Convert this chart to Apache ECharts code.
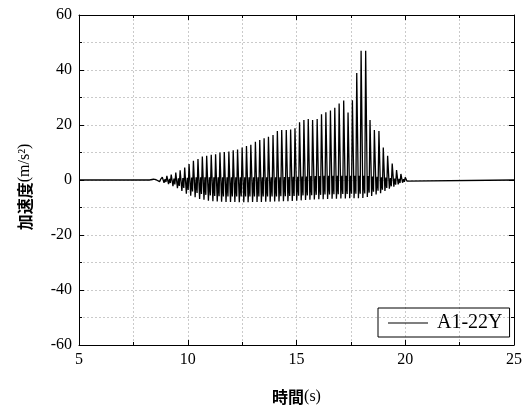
<!DOCTYPE html>
<html><head><meta charset="utf-8">
<script src="https://cdn.jsdelivr.net/npm/echarts@6/dist/echarts.min.js"></script>
<style>html,body{margin:0;padding:0;background:#fff;}#c{width:527px;height:410px;}</style>
</head><body><div id="c"></div>
<script>
const seriesName = 'A1-22Y';
const xTicks = [5, 10, 15, 20, 25];
const yTicks = [-60, -40, -20, 0, 20, 40, 60];
const quietStart = [5, 8.25];
const quietEnd = [20.15, 25];
const cycleTimes = [8.42,8.63,8.83,9.04,9.24,9.45,9.65,9.86,
10.06,10.26,10.47,10.67,10.87,11.08,11.28,11.48,11.68,11.89,
12.09,12.29,12.50,12.70,12.90,13.11,13.31,13.51,13.71,13.92,
14.12,14.32,14.53,14.73,14.93,15.14,15.34,15.54,15.74,15.95,
16.15,16.35,16.56,16.76,16.96,17.17,17.37,17.57,17.77,17.97,
18.18,18.38,18.58,18.79,18.99,19.19,19.40,19.60,19.80,20.00];
const peakVals = [0.3,0.6,1.0,1.5,2.0,2.7,3.5,4.5,
5.8,7.0,7.6,8.5,8.8,9.2,9.4,10.0,10.2,10.4,
10.8,11.1,11.8,12.4,12.8,13.9,14.5,15.2,15.7,16.4,
17.8,18.2,18.2,18.4,18.8,21.0,21.8,22.2,21.8,22.2,
23.9,24.6,25.3,26.3,27.8,28.9,24.5,29.0,38.9,47.0,
47.0,21.8,18.2,17.8,11.8,8.8,6.0,3.6,2.2,1.0];
const troughVals = [-0.3,-0.6,-1.0,-1.5,-2.2,-3.0,-4.0,-5.0,
-5.7,-6.3,-6.9,-7.2,-7.5,-7.7,-7.8,-7.9,-8.0,-8.0,
-8.0,-8.1,-8.1,-8.1,-8.0,-8.0,-8.0,-7.9,-7.9,-7.8,
-7.8,-7.7,-7.7,-7.6,-7.5,-7.4,-7.3,-7.2,-7.1,-7.0,
-7.0,-6.9,-6.8,-6.8,-6.7,-6.7,-6.6,-6.6,-6.6,-6.5,
-6.2,-5.8,-5.3,-4.8,-4.0,-3.2,-2.4,-1.6,-1.0,-0.4];
const subHighVals = [0.1,0.2,0.3,0.4,0.5,0.6,0.7,0.8,
0.9,1,1,1,1,1,1,1,1,1,
1,1,1,1,1,1,1,1,1,1,
1,1.1,1.1,1.2,1.2,1.3,1.3,1.4,1.4,1.4,
1.5,1.5,1.5,1.5,1.5,1.5,1.5,1.5,1.5,1.5,
1.4,1.3,1.2,1.0,0.9,0.7,0.5,0.4,0.3,0.2];
const subLowVals = [-0.2,-0.4,-0.7,-1.1,-1.6,-2.2,-2.9,-3.6,
-4.2,-4.7,-5.1,-5.4,-5.6,-5.8,-5.9,-6,-6,-6,
-6,-6,-6,-6,-6,-6,-6,-6,-6,-6,
-5.9,-5.9,-5.8,-5.8,-5.7,-5.6,-5.6,-5.5,-5.4,-5.4,
-5.3,-5.3,-5.2,-5.2,-5.1,-5.1,-5,-5,-5,-4.9,
-4.6,-4.3,-3.9,-3.5,-2.9,-2.3,-1.7,-1.1,-0.7,-0.3];

// build line data from the read values
const data = [[quietStart[0], 0], [quietStart[1], 0]];
for (let i = 0; i < cycleTimes.length; i++) {
  const t = cycleTimes[i];
  const p = (i + 1 < cycleTimes.length ? cycleTimes[i + 1] : t + 0.2) - t;
  data.push([t, peakVals[i]]);
  data.push([t + 0.38 * p, troughVals[i]]);
  data.push([t + 0.6 * p, subHighVals[i]]);
  data.push([t + 0.8 * p, subLowVals[i]]);
}
data.push([quietEnd[0], 0], [quietEnd[1], 0]);

const serif = '"Liberation Serif", "Times New Roman", serif';
const cjk = '"Noto Sans CJK JP", "Noto Sans CJK SC", sans-serif';
const xMin = xTicks[0], xMax = xTicks[xTicks.length - 1];
const yMin = yTicks[0], yMax = yTicks[yTicks.length - 1];
const gridDot = { show: true, lineStyle: { color: '#cacaca', type: [2, 2], width: 1 } };

const baseX = {
  type: 'value', min: xMin, max: xMax, interval: 5,
  axisLine: { show: true, onZero: false, lineStyle: { color: '#000', width: 1 } },
  axisTick: { show: true, inside: true, length: 5, lineStyle: { color: '#000' } },
  minorTick: { show: true, splitNumber: 2, length: 3, lineStyle: { color: '#000' } },
};
const baseY = {
  type: 'value', min: yMin, max: yMax, interval: 20,
  axisLine: { show: true, onZero: false, lineStyle: { color: '#000', width: 1 } },
  axisTick: { show: true, inside: true, length: 5, lineStyle: { color: '#000' } },
  minorTick: { show: true, splitNumber: 2, length: 3, lineStyle: { color: '#000' } },
};
const nameRich = {
  c: { fontFamily: cjk, fontSize: 16, fontWeight: 'bold', color: '#000' },
  s: { fontFamily: serif, fontSize: 16, color: '#000' }
};

const chart = echarts.init(document.getElementById('c'), null, { renderer: 'canvas' });
chart.setOption({
  animation: false,
  backgroundColor: '#fff',
  grid: { left: 79, right: 13, top: 15, bottom: 64, containLabel: false },
  legend: {
    data: [seriesName],
    left: 378, top: 308,
    orient: 'horizontal',
    borderColor: '#000', borderWidth: 1, borderRadius: 0,
    padding: [5, 7, 4, 10],
    itemWidth: 40, itemHeight: 12, itemGap: 6,
    textStyle: { fontFamily: serif, fontSize: 20, color: '#000', padding: [0, 0, 0, 4] },
    icon: 'path://M0,6 L40,6 L40,7 L0,7 Z',
    itemStyle: { color: '#000' }
  },
  xAxis: [
    Object.assign({}, baseX, {
      position: 'bottom',
      axisLabel: { show: true, margin: 7, color: '#000', fontFamily: serif, fontSize: 16 },
      splitLine: gridDot, minorSplitLine: gridDot,
      name: '{c|時間}{s|(s)}', nameLocation: 'middle', nameGap: 44,
      nameTextStyle: { color: '#000', rich: nameRich }
    }),
    Object.assign({}, baseX, {
      position: 'top', axisLabel: { show: false },
      splitLine: { show: false }, minorSplitLine: { show: false }
    })
  ],
  yAxis: [
    Object.assign({}, baseY, {
      position: 'left',
      axisLabel: { show: true, margin: 7, color: '#000', fontFamily: serif, fontSize: 16 },
      splitLine: gridDot, minorSplitLine: gridDot,
      name: '{c|加速度}{s|(m/s²)}', nameLocation: 'middle', nameGap: 46, nameRotate: 90,
      nameTextStyle: { color: '#000', rich: nameRich, padding: [0, 14, 0, 0] }
    }),
    Object.assign({}, baseY, {
      position: 'right', axisLabel: { show: false },
      splitLine: { show: false }, minorSplitLine: { show: false }
    })
  ],
  series: [{
    name: seriesName,
    type: 'line',
    xAxisIndex: 0, yAxisIndex: 0,
    data: data,
    symbol: 'none',
    showSymbol: false,
    lineStyle: { color: '#000', width: 1.3 },
    itemStyle: { color: '#000' },
    sampling: false,
    z: 5
  }]
});
</script></body></html>
